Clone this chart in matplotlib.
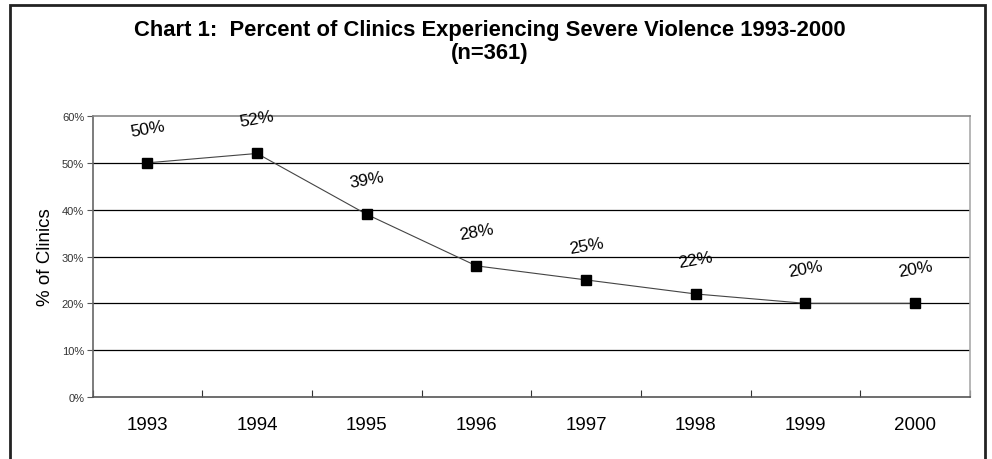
import matplotlib
matplotlib.use("Agg")
import matplotlib.pyplot as plt
from matplotlib.patches import Rectangle

years = ["1993", "1994", "1995", "1996", "1997", "1998", "1999", "2000"]
values = [50, 52, 39, 28, 25, 22, 20, 20]
labels = ["50%", "52%", "39%", "28%", "25%", "22%", "20%", "20%"]
yticks = [0, 10, 20, 30, 40, 50, 60]

plt.rcParams['font.family'] = ['Liberation Sans', 'DejaVu Sans']

fig = plt.figure(figsize=(9.92, 4.6), dpi=100)
# outer frame
fig.patches.append(Rectangle((10/992, -0.05), (985-10)/992, (460-6)/460 + 0.05,
                             transform=fig.transFigure, fill=False,
                             edgecolor='#222222', linewidth=2))

ax = fig.add_axes([92.5/992, 1 - 398/460, (970-92.5)/992, (398-117)/460])
x = list(range(len(years)))
ax.plot(x, values, color='#444444', linewidth=0.8, marker='s', markersize=7,
        markerfacecolor='black', markeredgecolor='black', zorder=3)
for xi, v, lab in zip(x, values, labels):
    ax.annotate(lab, (xi, v), xytext=(0, 25), textcoords='offset points',
                ha='center', va='center', rotation=10, fontsize=12.5)

ax.set_xlim(-0.5, len(years) - 0.5)
ax.set_ylim(0, 60)
ax.set_yticks(yticks)
ax.set_yticklabels([f"{t}%" for t in yticks], fontsize=8, color='#333333')
ax.set_xticks(x)
ax.set_xticklabels(years, fontsize=13.5)
ax.set_xticks([i - 0.5 for i in range(len(years) + 1)], minor=True)
ax.tick_params(axis='x', which='major', length=0, pad=14)
ax.tick_params(axis='x', which='minor', length=5, width=0.8, color='#333333', direction='in')
ax.tick_params(axis='y', length=4, width=0.8, color='#555555', pad=2)
for t in yticks[1:-1]:
    ax.axhline(t, color='black', linewidth=0.9, zorder=1)
ax.spines['top'].set_color('#888888')
ax.spines['right'].set_color('#aaaaaa')
ax.spines['left'].set_color('#666666')
ax.spines['bottom'].set_color('#555555')
for s in ax.spines.values():
    s.set_linewidth(1.2)
ax.set_ylabel("% of Clinics", fontsize=13.5)
ax.yaxis.set_label_coords(-0.044, 0.5)

fig.text(0.494, 1 - 31/460, "Chart 1:  Percent of Clinics Experiencing Severe Violence 1993-2000",
         ha='center', va='center', fontsize=15.8, fontweight='bold')
fig.text(0.494, 1 - 53/460, "(n=361)", ha='center', va='center', fontsize=15.8, fontweight='bold')

fig.savefig("out.png", dpi=100)
